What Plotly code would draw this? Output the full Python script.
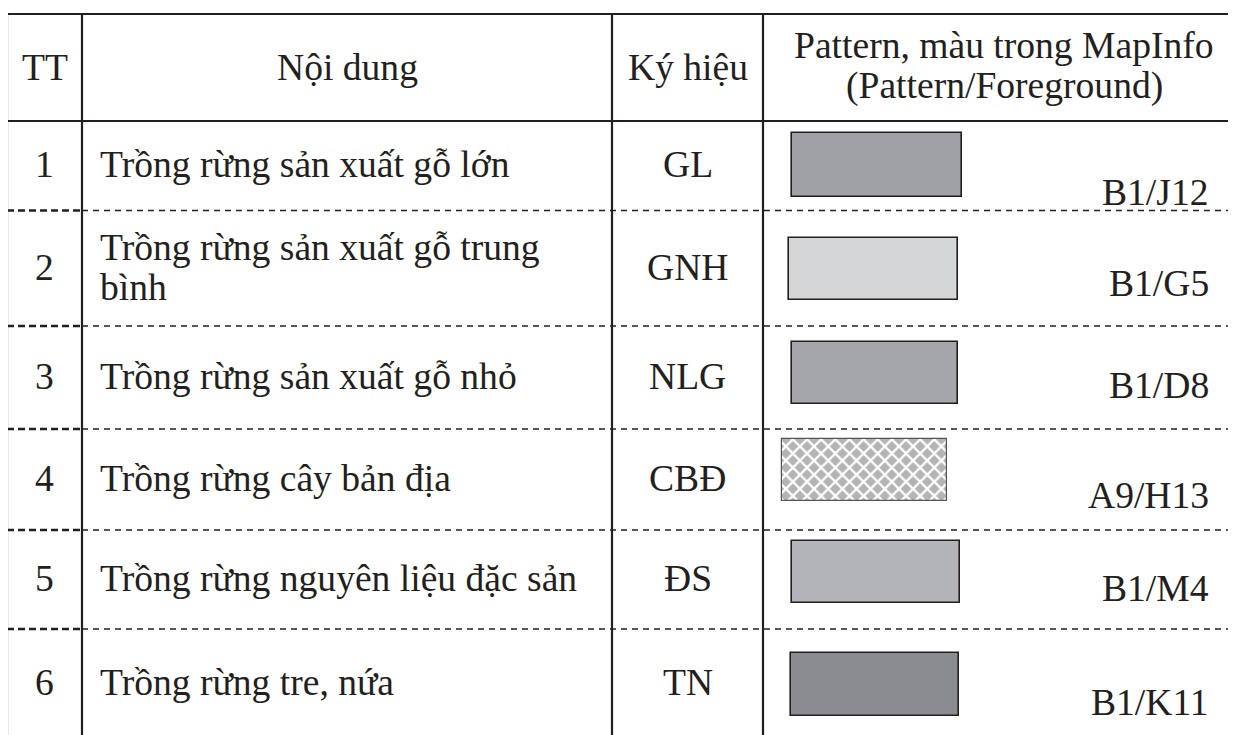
import plotly.graph_objects as go

W, H = 1236, 735
PAGE_MARGIN = 8  # default body margin of the html page

# ---------------- table content ----------------
headers = ["TT", "Nội dung", "Ký hiệu", "Pattern, màu trong MapInfo", "(Pattern/Foreground)"]
tt = ["1", "2", "3", "4", "5", "6"]
noi_dung = [
    ["Trồng rừng sản xuất gỗ lớn"],
    ["Trồng rừng sản xuất gỗ trung", "bình"],
    ["Trồng rừng sản xuất gỗ nhỏ"],
    ["Trồng rừng cây bản địa"],
    ["Trồng rừng nguyên liệu đặc sản"],
    ["Trồng rừng tre, nứa"],
]
ky_hieu = ["GL", "GNH", "NLG", "CBĐ", "ĐS", "TN"]
ma_mapinfo = ["B1/J12", "B1/G5", "B1/D8", "A9/H13", "B1/M4", "B1/K11"]
mau = ["#a0a1a4", "#d5d6d8", "#a5a6a9", "#b4b4b4", "#b3b4b7", "#8b8c8f"]
mau_pattern = ["", "", "", "x", "", ""]

# ---------------- geometry (layout only) ----------------
col_x = [7, 82, 612, 763, 1240]
top_y = 14
row_y = [121, 210.5, 326, 429, 530, 629, 742]
sw_x0 = [792, 789, 792, 782, 792, 791]
sw_x1 = [962, 958, 958, 947, 960, 959]
sw_y0 = [133, 238, 342, 439, 541, 653]
sw_y1 = [197, 300, 404, 501, 603, 716]
code_y = [192, 283, 385, 495, 588, 702]
code_right = 1211
text_left = 98
ink = "#231f20"
FONT = dict(family="Liberation Serif, Times New Roman, serif", size=37.6, color=ink)

fig = go.Figure()

# swatches as bars
for i in range(len(tt)):
    pat = dict(shape="")
    line = dict(color=ink, width=1.6)
    if mau_pattern[i]:
        pat = dict(shape=mau_pattern[i], fgcolor="white", bgcolor=mau[i],
                   size=10, solidity=0.4, fillmode="replace")
        line = dict(color="#555555", width=1.2)
    fig.add_trace(go.Bar(
        x=[(sw_x0[i] + sw_x1[i]) / 2], y=[sw_y1[i] - sw_y0[i]], base=[sw_y0[i]],
        width=[sw_x1[i] - sw_x0[i]],
        marker=dict(color=mau[i], line=line, pattern=pat),
        hoverinfo="skip", showlegend=False,
    ))

shapes = []
# solid lines
for x in col_x[:4]:
    shapes.append(dict(type="line", x0=x, x1=x, y0=top_y, y1=H + 5,
                       line=dict(color=ink, width=2.2)))
for y in [top_y, row_y[0]]:
    shapes.append(dict(type="line", x0=col_x[0], x1=W + 5, y0=y, y1=y,
                       line=dict(color=ink, width=2.2)))
# dashed row separators
for y in row_y[1:6]:
    shapes.append(dict(type="line", x0=col_x[0], x1=col_x[1], y0=y, y1=y,
                       line=dict(color=ink, width=2.6, dash="7px,4px")))
    shapes.append(dict(type="line", x0=col_x[1], x1=W + 5, y0=y, y1=y,
                       line=dict(color=ink, width=1.3, dash="6px,5px")))

ann = []
def txt(x, y, s, xanchor="center"):
    ann.append(dict(x=x, y=y, xref="x", yref="y", text=s, showarrow=False,
                    xanchor=xanchor, yanchor="middle", font=FONT))

# header
hy = (top_y + row_y[0]) / 2
txt((col_x[0] + col_x[1]) / 2, hy, headers[0])
txt((col_x[1] + col_x[2]) / 2, hy, headers[1])
txt((col_x[2] + col_x[3]) / 2, hy, headers[2])
txt(1004, hy - 22, headers[3])
txt(1004, hy + 18, headers[4])

for i in range(len(tt)):
    cy = (row_y[i] + row_y[i + 1]) / 2 if i < 5 else 683
    txt((col_x[0] + col_x[1]) / 2, cy - 1, tt[i])
    lines = noi_dung[i]
    n = len(lines)
    for k, s in enumerate(lines):
        txt(text_left, cy - 1 + (k - (n - 1) / 2) * 40, s, xanchor="left")
    txt((col_x[2] + col_x[3]) / 2, cy - 1, ky_hieu[i])
    txt(code_right, code_y[i], ma_mapinfo[i], xanchor="right")

fig.update_layout(
    width=W - PAGE_MARGIN, height=H - PAGE_MARGIN, margin=dict(l=0, r=0, t=0, b=0),
    paper_bgcolor="white", plot_bgcolor="white",
    barmode="overlay", bargap=0,
    xaxis=dict(range=[PAGE_MARGIN, W], visible=False, fixedrange=True),
    yaxis=dict(range=[H, PAGE_MARGIN], visible=False, fixedrange=True),
    shapes=shapes, annotations=ann,
    hovermode=False,
)
fig.write_html("out.html", config={"displayModeBar": False})
